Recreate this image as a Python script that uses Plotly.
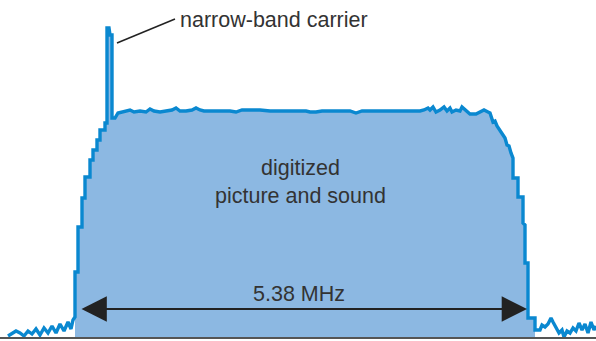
import plotly.graph_objects as go

# Spectrum outline: frequency (arbitrary units) and level above baseline
noise_left_f = [8, 12, 16, 20, 24, 28, 32, 36, 40, 44, 48, 52, 56, 60, 64, 68, 71, 73, 75]
noise_left_l = [2, 5, 7, 5, 2, 7, 4, 9, 3, 10, 5, 12, 5, 14, 7, 16, 9, 18, 21]

band_f = [75, 75, 78, 78, 82, 82, 85, 85, 90, 90, 93, 93, 97, 97, 100, 100, 105, 105, 107,
          107, 109, 110, 112, 112, 115, 118, 122, 126, 130, 134, 140, 146, 150, 154, 160, 166,
          172, 176, 180, 186, 192, 196, 200, 204, 210, 220, 230, 236, 242, 250, 260, 270, 280,
          290, 300, 306, 310, 316, 322, 330, 340, 350, 356, 362, 370, 380, 390, 400, 420, 424,
          428, 430, 433, 436, 440, 444, 447, 450, 452, 456, 460, 462, 465, 470, 476, 480, 484,
          488, 490, 493, 495, 497, 499, 501, 503, 505, 507, 509, 511, 512, 513, 513, 518, 518,
          523, 523, 525, 525, 528, 528, 535, 535]
band_l = [21, 66, 66, 111, 111, 140, 140, 161, 161, 178, 178, 188, 188, 198, 198, 208, 208, 215, 215,
          310, 310, 303, 303, 220, 220, 225, 226, 227, 228, 226, 227, 226, 229, 227, 226, 227,
          228, 230, 227, 227, 228, 230, 228, 227, 227, 227, 227, 226, 228, 228, 228, 227, 227,
          227, 227, 227, 226, 226, 227, 227, 227, 227, 225, 227, 227, 227, 227, 227, 227, 228,
          230, 228, 231, 226, 228, 231, 227, 230, 226, 228, 227, 231, 228, 224, 224, 226, 228,
          226, 225, 216, 217, 212, 209, 205, 203, 200, 193, 192, 185, 183, 180, 160, 160, 141,
          141, 115, 113, 75, 75, 20, 20, 8]

noise_right_f = [540, 542, 545, 548, 551, 553, 556, 559, 562, 564, 567, 570, 573, 576, 579,
                 582, 585, 588, 591, 594, 596]
noise_right_l = [8, 13, 11, 14, 20, 16, 10, 5, 8, 1, 7, 5, 10, 7, 15, 8, 14, 5, 16, 8, 12]

freq = noise_left_f + band_f + noise_right_f
level = noise_left_l + band_l + noise_right_l

fill_col = "#8cb8e2"
line_col = "#0a88d0"
text_col = "#333333"
font_name = "Liberation Sans"

fig = go.Figure()

# light blue area under the digital band only
fig.add_trace(go.Scatter(x=band_f, y=band_l, mode="lines", fill="tozeroy",
                         fillcolor=fill_col, line=dict(width=0), hoverinfo="skip"))
# outline of the whole spectrum
fig.add_trace(go.Scatter(x=freq, y=level, mode="lines",
                         line=dict(color=line_col, width=3.4), hoverinfo="skip"))

# baseline
fig.add_shape(type="line", x0=0, x1=596, y0=0, y1=0,
              line=dict(color="#555555", width=2))
# leader line to the carrier spike
fig.add_shape(type="line", x0=117, y0=295, x1=175, y1=319,
              line=dict(color="#222222", width=1.5))

# double-headed arrow for the bandwidth
fig.add_annotation(x=527, y=29, ax=80, ay=29, xref="x", yref="y", axref="x", ayref="y",
                   text="", showarrow=True, arrowhead=2, startarrowhead=2,
                   arrowside="end+start", arrowsize=2.3, startarrowsize=2.3,
                   arrowwidth=2.2, arrowcolor="#222222")

fig.add_annotation(x=299, y=44, text="5.38 MHz", showarrow=False,
                   font=dict(family=font_name, size=21.5, color=text_col))
fig.add_annotation(x=300, y=156, text="digitized<br>picture and sound", showarrow=False,
                   font=dict(family=font_name, size=21.5, color=text_col))
fig.add_annotation(x=178, y=318, text="narrow-band carrier", showarrow=False,
                   xanchor="left", font=dict(family=font_name, size=21.5, color=text_col))

fig.update_xaxes(range=[0, 596], visible=False)
fig.update_yaxes(range=[-3, 338], visible=False)
fig.update_layout(width=596, height=341, margin=dict(l=0, r=0, t=0, b=0),
                  showlegend=False, plot_bgcolor="white", paper_bgcolor="white")

# drop the page's default body margin so the figure sits at the window corner
fig.write_html("out.html", config={"displayModeBar": False, "staticPlot": True},
               post_script="document.body.style.margin='0px';")
